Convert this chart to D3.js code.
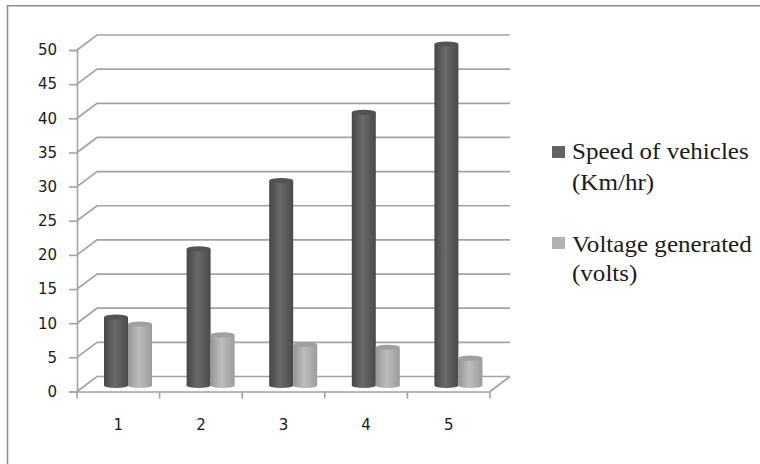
<!DOCTYPE html>
<html>
<head>
<meta charset="utf-8">
<script src="https://cdn.jsdelivr.net/npm/d3@7"></script>
<style>
  html, body { margin: 0; padding: 0; background: #fff; }
  svg { display: block; }
</style>
</head>
<body>
<svg></svg>
<script>
// values
let categories = ['1', '2', '3', '4', '5'];
let speed = [10, 20, 30, 40, 50];
let voltage = [9, 7.4, 6, 5.6, 4];
let yTicks = [0, 5, 10, 15, 20, 25, 30, 35, 40, 45, 50];
let legendLabels = [['Speed of vehicles', '(Km/hr)'], ['Voltage generated', '(volts)']];

let svgWidth = 760,
    svgHeight = 464;

let svg = d3.select('svg')
            .attr('width', svgWidth)
            .attr('height', svgHeight);

let axisColor = '#a3a3a3';
let depthX = 20,
    depthY = -15;

let x = d3.scaleBand().domain(categories).range([77, 490]);
let y = d3.scaleLinear().domain([0, 50]).range([391.5, 50]);
let inner = d3.scaleBand().domain([0, 1]).range([0, 48]);

let defs = svg.append('defs');

function cylinderGradient(id, stops) {
  let g = defs.append('linearGradient').attr('id', id);
  stops.forEach(s => g.append('stop').attr('offset', s[0]).attr('stop-color', s[1]));
}
cylinderGradient('darkBar', [[0, '#474747'], [0.45, '#6a6a6a'], [1, '#4a4a4a']]);
cylinderGradient('lightBar', [[0, '#959595'], [0.45, '#bdbdbd'], [1, '#9c9c9c']]);

// the reference is a slightly blurred screenshot
defs.append('filter')
    .attr('id', 'soft')
    .append('feGaussianBlur')
    .attr('stdDeviation', 0.45);

// outer frame
svg.append('path')
   .attr('d', 'M7.5,464V5.7H760')
   .attr('fill', 'none')
   .attr('stroke', '#8c8c8c')
   .attr('stroke-width', 1.5);

// gridlines on the side and back walls
let grid = svg.append('g')
              .attr('fill', 'none')
              .attr('stroke', axisColor)
              .attr('stroke-width', 1.7)
              .attr('filter', 'url(#soft)');
grid.selectAll('path')
    .data(yTicks)
    .join('path')
    .attr('d', d => `M${x.range()[0]},${y(d)}l${depthX},${depthY}H${x.range()[1] + depthX}`);

// floor edge on the right
grid.append('path')
    .attr('d', `M${x.range()[1]},${y(0)}l${depthX},${depthY}`);

// axes
let yAxis = d3.axisLeft(y).tickValues(yTicks).tickSize(8).tickPadding(12);
let xAxis = d3.axisBottom(x).tickSize(0).tickPadding(28);

let gy = svg.append('g').attr('transform', 'translate(77,0)').call(yAxis);
let gx = svg.append('g').attr('transform', `translate(0,${y(0)})`).call(xAxis);

// category ticks sit between the groups
gx.selectAll('.boundary')
  .data(categories.concat(''))
  .join('line')
  .attr('class', 'boundary')
  .attr('x1', (d, i) => x.range()[0] + i * x.step())
  .attr('x2', (d, i) => x.range()[0] + i * x.step())
  .attr('y1', 0)
  .attr('y2', 7)
  .attr('stroke', axisColor)
  .attr('stroke-width', 1.6);

[gy, gx].forEach(g => {
  g.selectAll('.domain, .tick line').attr('stroke', axisColor).attr('stroke-width', 1.6);
  g.selectAll('text')
   .attr('font-family', '"DejaVu Sans", sans-serif')
   .attr('font-size', 15)
   .attr('fill', '#1a1a1a');
});

// bars are drawn on a plane slightly behind the front axis
let barLift = 6;

function cylinder(v, i, series, fill, topFill) {
  let left = x(categories[i]) + 27 + inner(series),
      w = inner.bandwidth(),
      top = y(v) - barLift,
      base = y(0) - barLift,
      ry = 2.6;
  let g = svg.append('g').attr('filter', 'url(#soft)');
  g.append('path')
   .attr('d', `M${left},${top}V${base}A${w / 2},${ry} 0 0 0 ${left + w},${base}V${top}Z`)
   .attr('fill', fill);
  g.append('ellipse')
   .attr('cx', left + w / 2)
   .attr('cy', top)
   .attr('rx', w / 2)
   .attr('ry', ry)
   .attr('fill', topFill);
}

speed.forEach((v, i) => {
  cylinder(v, i, 0, 'url(#darkBar)', '#525252');
  cylinder(voltage[i], i, 1, 'url(#lightBar)', '#a0a0a0');
});

// legend
let legend = svg.append('g');
let legendColors = ['#636363', '#b2b2b2'];
let swatchY = [152, 243];
let baselines = [[159, 190], [252, 281]];

legendLabels.forEach((lines, i) => {
  legend.append('rect')
        .attr('x', 552)
        .attr('y', swatchY[i] - 6)
        .attr('width', 13)
        .attr('height', 12)
        .attr('fill', legendColors[i]);
  lines.forEach((line, j) => {
    // the original face is wider than Liberation Serif
    legend.append('text')
          .attr('transform', `translate(572,${baselines[i][j]}) scale(1.09,1)`)
          .attr('font-family', '"Liberation Serif", serif')
          .attr('font-size', 23)
          .attr('fill', '#1a1a1a')
          .text(line);
  });
});
</script>
</body>
</html>
